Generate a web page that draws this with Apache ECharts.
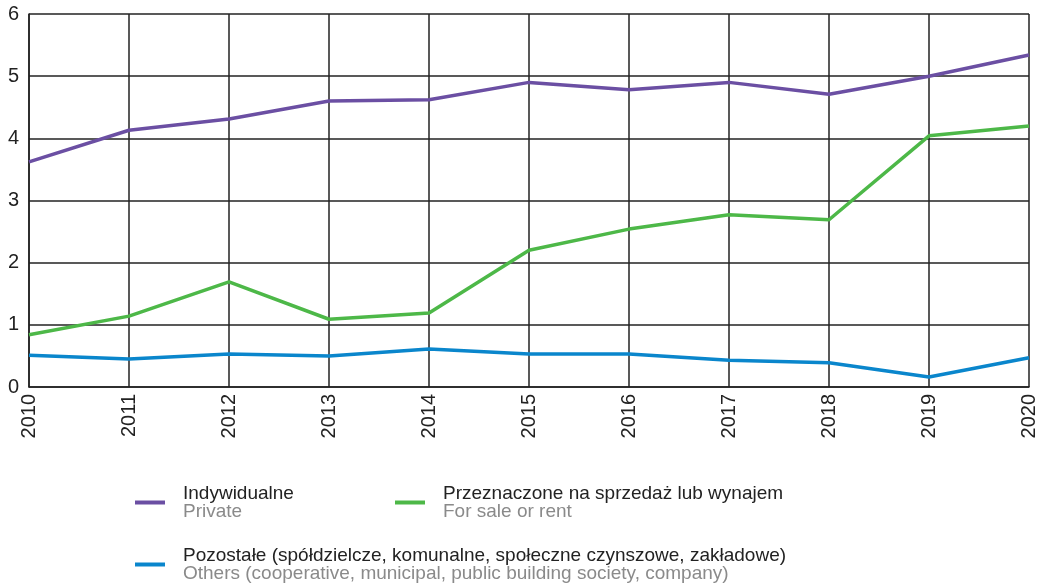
<!DOCTYPE html>
<html>
<head>
<meta charset="utf-8">
<script src="https://cdn.jsdelivr.net/npm/echarts@6/dist/echarts.min.js"></script>
<style>
  html, body { margin: 0; padding: 0; background: #fff; }
  #chart { width: 1046px; height: 586px; }
</style>
</head>
<body>
<div id="chart"></div>
<script>
const years = ["2010", "2011", "2012", "2013", "2014", "2015", "2016", "2017", "2018", "2019", "2020"];
const indywidualne = [3.62, 4.13, 4.31, 4.6, 4.62, 4.9, 4.78, 4.9, 4.71, 5.0, 5.34];
const naSprzedaz = [0.84, 1.14, 1.69, 1.09, 1.19, 2.2, 2.54, 2.77, 2.69, 4.04, 4.2];
const pozostale = [0.51, 0.45, 0.53, 0.5, 0.61, 0.53, 0.53, 0.43, 0.39, 0.16, 0.47];

const names = {
  a: "Indywidualne",
  b: "Przeznaczone na sprzedaż lub wynajem",
  c: "Pozostałe (spółdzielcze, komunalne, społeczne czynszowe, zakładowe)",
};
const subNames = {};
subNames[names.a] = "Private";
subNames[names.b] = "For sale or rent";
subNames[names.c] = "Others (cooperative, municipal, public building society, company)";

const chart = echarts.init(document.getElementById("chart"));

const legendBase = (name, left, top) => ({
  data: [name],
  left: left,
  top: top,
  orient: "horizontal",
  icon: "rect",
  itemWidth: 30,
  itemHeight: 4,
  selectedMode: false,
  formatter: (n) => "{a|" + n + "}\n{b|" + subNames[n] + "}",
  textStyle: {
    padding: [0, 0, 0, 13],
    rich: {
      a: { fontSize: 19, color: "#222", lineHeight: 18, fontFamily: "Liberation Sans" },
      b: { fontSize: 19, color: "#8a8a8a", lineHeight: 18, fontFamily: "Liberation Sans" },
    },
  },
});

const option = {
  animation: false,
  textStyle: { fontFamily: "Liberation Sans" },
  grid: { left: 29, right: 17, top: 14, bottom: 199 },
  legend: [
    legendBase(names.a, 130, 479),
    legendBase(names.b, 390, 479),
    legendBase(names.c, 130, 541),
  ],
  xAxis: {
    type: "category",
    data: years,
    boundaryGap: false,
    axisLine: { lineStyle: { color: "#222", width: 1.5 } },
    axisTick: { show: false },
    splitLine: { show: true, lineStyle: { color: "#222", width: 1.5 } },
    axisLabel: { rotate: 90, fontSize: 20, color: "#222", margin: 7 },
  },
  yAxis: {
    type: "value",
    min: 0,
    max: 6,
    interval: 1,
    axisLine: { show: true, lineStyle: { color: "#222", width: 1.5 } },
    axisTick: { show: false },
    splitLine: { show: true, lineStyle: { color: "#222", width: 1.5 } },
    axisLabel: { fontSize: 20, color: "#222", margin: 10 },
  },
  series: [
    {
      name: names.a,
      type: "line",
      data: indywidualne,
      showSymbol: false,
      color: "#6b4fa3",
      lineStyle: { width: 3.5 },
    },
    {
      name: names.b,
      type: "line",
      data: naSprzedaz,
      showSymbol: false,
      color: "#4db848",
      lineStyle: { width: 3.5 },
    },
    {
      name: names.c,
      type: "line",
      data: pozostale,
      showSymbol: false,
      color: "#0a86cc",
      lineStyle: { width: 3.5 },
    },
  ],
};

chart.setOption(option);
</script>
</body>
</html>
